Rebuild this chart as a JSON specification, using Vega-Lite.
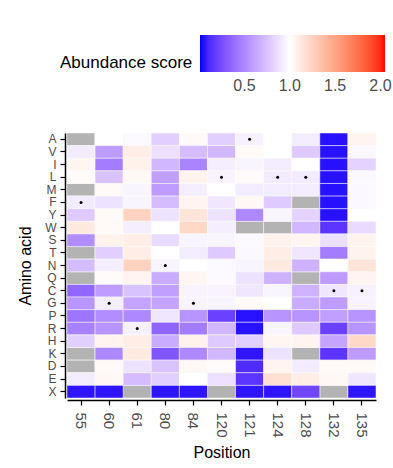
{
  "$schema": "https://vega.github.io/schema/vega-lite/v6.json",
  "width": 309,
  "height": 265,
  "autosize": {"type": "none"},
  "padding": {"left": 67, "top": 133, "right": 17, "bottom": 70},
  "background": "white",
  "config": {
    "view": {"stroke": null},
    "font": "Liberation Sans",
    "axis": {"domainColor": "black", "domainWidth": 1.5, "tickColor": "black", "tickWidth": 1.2, "tickSize": 5, "labelColor": "#4d4d4d", "titleColor": "black", "titleFontWeight": "normal", "titleFontSize": 16, "labelFontSize": 15, "grid": false, "offset": 2}
  },
  "datasets": {
    "cells": [
      {"position":"55","aa":"A","score":null,"wt":0},{"position":"55","aa":"V","score":0.92,"wt":0},{"position":"55","aa":"I","score":1.05,"wt":0},{"position":"55","aa":"L","score":1.02,"wt":0},{"position":"55","aa":"M","score":null,"wt":0},{"position":"55","aa":"F","score":0.92,"wt":1},{"position":"55","aa":"Y","score":0.78,"wt":0},{"position":"55","aa":"W","score":1.12,"wt":0},{"position":"55","aa":"S","score":0.52,"wt":0},{"position":"55","aa":"T","score":null,"wt":0},{"position":"55","aa":"N","score":0.72,"wt":0},{"position":"55","aa":"Q","score":null,"wt":0},{"position":"55","aa":"C","score":0.36,"wt":0},{"position":"55","aa":"G","score":0.56,"wt":0},{"position":"55","aa":"P","score":0.42,"wt":0},{"position":"55","aa":"R","score":0.47,"wt":0},{"position":"55","aa":"H","score":0.8,"wt":0},{"position":"55","aa":"K","score":null,"wt":0},{"position":"55","aa":"D","score":null,"wt":0},{"position":"55","aa":"E","score":0.92,"wt":0},{"position":"55","aa":"X","score":0.05,"wt":0},
      {"position":"60","aa":"A","score":1.0,"wt":0},{"position":"60","aa":"V","score":0.58,"wt":0},{"position":"60","aa":"I","score":0.45,"wt":0},{"position":"60","aa":"L","score":0.75,"wt":0},{"position":"60","aa":"M","score":1.03,"wt":0},{"position":"60","aa":"F","score":0.88,"wt":0},{"position":"60","aa":"Y","score":1.03,"wt":0},{"position":"60","aa":"W","score":1.03,"wt":0},{"position":"60","aa":"S","score":1.08,"wt":0},{"position":"60","aa":"T","score":0.8,"wt":0},{"position":"60","aa":"N","score":0.93,"wt":0},{"position":"60","aa":"Q","score":1.02,"wt":0},{"position":"60","aa":"C","score":0.58,"wt":0},{"position":"60","aa":"G","score":0.93,"wt":1},{"position":"60","aa":"P","score":0.52,"wt":0},{"position":"60","aa":"R","score":0.55,"wt":0},{"position":"60","aa":"H","score":1.06,"wt":0},{"position":"60","aa":"K","score":0.5,"wt":0},{"position":"60","aa":"D","score":1.03,"wt":0},{"position":"60","aa":"E","score":1.04,"wt":0},{"position":"60","aa":"X","score":0.05,"wt":0},
      {"position":"61","aa":"A","score":0.98,"wt":0},{"position":"61","aa":"V","score":1.1,"wt":0},{"position":"61","aa":"I","score":1.08,"wt":0},{"position":"61","aa":"L","score":1.04,"wt":0},{"position":"61","aa":"M","score":0.96,"wt":0},{"position":"61","aa":"F","score":0.96,"wt":0},{"position":"61","aa":"Y","score":1.25,"wt":0},{"position":"61","aa":"W","score":0.93,"wt":0},{"position":"61","aa":"S","score":1.1,"wt":0},{"position":"61","aa":"T","score":1.1,"wt":0},{"position":"61","aa":"N","score":1.25,"wt":0},{"position":"61","aa":"Q","score":1.06,"wt":0},{"position":"61","aa":"C","score":0.75,"wt":0},{"position":"61","aa":"G","score":0.62,"wt":0},{"position":"61","aa":"P","score":0.5,"wt":0},{"position":"61","aa":"R","score":0.94,"wt":1},{"position":"61","aa":"H","score":1.1,"wt":0},{"position":"61","aa":"K","score":1.12,"wt":0},{"position":"61","aa":"D","score":0.88,"wt":0},{"position":"61","aa":"E","score":0.72,"wt":0},{"position":"61","aa":"X","score":null,"wt":0},
      {"position":"80","aa":"A","score":0.8,"wt":0},{"position":"80","aa":"V","score":0.87,"wt":0},{"position":"80","aa":"I","score":0.7,"wt":0},{"position":"80","aa":"L","score":0.6,"wt":0},{"position":"80","aa":"M","score":0.58,"wt":0},{"position":"80","aa":"F","score":0.72,"wt":0},{"position":"80","aa":"Y","score":0.88,"wt":0},{"position":"80","aa":"W","score":1.0,"wt":0},{"position":"80","aa":"S","score":0.85,"wt":0},{"position":"80","aa":"T","score":1.0,"wt":0},{"position":"80","aa":"N","score":0.96,"wt":1},{"position":"80","aa":"Q","score":0.65,"wt":0},{"position":"80","aa":"C","score":0.6,"wt":0},{"position":"80","aa":"G","score":0.62,"wt":0},{"position":"80","aa":"P","score":0.9,"wt":0},{"position":"80","aa":"R","score":0.35,"wt":0},{"position":"80","aa":"H","score":0.65,"wt":0},{"position":"80","aa":"K","score":0.28,"wt":0},{"position":"80","aa":"D","score":0.75,"wt":0},{"position":"80","aa":"E","score":0.8,"wt":0},{"position":"80","aa":"X","score":0.05,"wt":0},
      {"position":"84","aa":"A","score":1.03,"wt":0},{"position":"84","aa":"V","score":0.72,"wt":0},{"position":"84","aa":"I","score":0.48,"wt":0},{"position":"84","aa":"L","score":1.07,"wt":0},{"position":"84","aa":"M","score":0.93,"wt":0},{"position":"84","aa":"F","score":1.06,"wt":0},{"position":"84","aa":"Y","score":1.15,"wt":0},{"position":"84","aa":"W","score":1.22,"wt":0},{"position":"84","aa":"S","score":0.96,"wt":0},{"position":"84","aa":"T","score":0.92,"wt":0},{"position":"84","aa":"N","score":1.0,"wt":0},{"position":"84","aa":"Q","score":1.05,"wt":0},{"position":"84","aa":"C","score":0.95,"wt":0},{"position":"84","aa":"G","score":0.95,"wt":1},{"position":"84","aa":"P","score":0.55,"wt":0},{"position":"84","aa":"R","score":0.45,"wt":0},{"position":"84","aa":"H","score":1.08,"wt":0},{"position":"84","aa":"K","score":0.5,"wt":0},{"position":"84","aa":"D","score":1.04,"wt":0},{"position":"84","aa":"E","score":1.0,"wt":0},{"position":"84","aa":"X","score":0.05,"wt":0},
      {"position":"120","aa":"A","score":0.8,"wt":0},{"position":"120","aa":"V","score":0.7,"wt":0},{"position":"120","aa":"I","score":0.93,"wt":0},{"position":"120","aa":"L","score":0.95,"wt":1},{"position":"120","aa":"M","score":1.0,"wt":0},{"position":"120","aa":"F","score":0.9,"wt":0},{"position":"120","aa":"Y","score":0.88,"wt":0},{"position":"120","aa":"W","score":0.93,"wt":0},{"position":"120","aa":"S","score":0.96,"wt":0},{"position":"120","aa":"T","score":0.78,"wt":0},{"position":"120","aa":"N","score":0.97,"wt":0},{"position":"120","aa":"Q","score":0.98,"wt":0},{"position":"120","aa":"C","score":0.95,"wt":0},{"position":"120","aa":"G","score":0.96,"wt":0},{"position":"120","aa":"P","score":0.2,"wt":0},{"position":"120","aa":"R","score":0.7,"wt":0},{"position":"120","aa":"H","score":0.78,"wt":0},{"position":"120","aa":"K","score":0.7,"wt":0},{"position":"120","aa":"D","score":1.02,"wt":0},{"position":"120","aa":"E","score":0.87,"wt":0},{"position":"120","aa":"X","score":null,"wt":0},
      {"position":"121","aa":"A","score":0.94,"wt":1},{"position":"121","aa":"V","score":1.03,"wt":0},{"position":"121","aa":"I","score":0.96,"wt":0},{"position":"121","aa":"L","score":1.02,"wt":0},{"position":"121","aa":"M","score":0.92,"wt":0},{"position":"121","aa":"F","score":1.04,"wt":0},{"position":"121","aa":"Y","score":0.5,"wt":0},{"position":"121","aa":"W","score":null,"wt":0},{"position":"121","aa":"S","score":0.97,"wt":0},{"position":"121","aa":"T","score":0.97,"wt":0},{"position":"121","aa":"N","score":0.96,"wt":0},{"position":"121","aa":"Q","score":0.88,"wt":0},{"position":"121","aa":"C","score":0.9,"wt":0},{"position":"121","aa":"G","score":1.03,"wt":0},{"position":"121","aa":"P","score":0.04,"wt":0},{"position":"121","aa":"R","score":0.04,"wt":0},{"position":"121","aa":"H","score":0.8,"wt":0},{"position":"121","aa":"K","score":0.05,"wt":0},{"position":"121","aa":"D","score":0.12,"wt":0},{"position":"121","aa":"E","score":0.15,"wt":0},{"position":"121","aa":"X","score":0.05,"wt":0},
      {"position":"124","aa":"A","score":1.0,"wt":0},{"position":"124","aa":"V","score":1.0,"wt":0},{"position":"124","aa":"I","score":0.92,"wt":0},{"position":"124","aa":"L","score":0.92,"wt":1},{"position":"124","aa":"M","score":0.92,"wt":0},{"position":"124","aa":"F","score":0.78,"wt":0},{"position":"124","aa":"Y","score":0.96,"wt":0},{"position":"124","aa":"W","score":null,"wt":0},{"position":"124","aa":"S","score":1.08,"wt":0},{"position":"124","aa":"T","score":1.1,"wt":0},{"position":"124","aa":"N","score":1.12,"wt":0},{"position":"124","aa":"Q","score":0.68,"wt":0},{"position":"124","aa":"C","score":0.96,"wt":0},{"position":"124","aa":"G","score":1.0,"wt":0},{"position":"124","aa":"P","score":0.55,"wt":0},{"position":"124","aa":"R","score":0.96,"wt":0},{"position":"124","aa":"H","score":1.05,"wt":0},{"position":"124","aa":"K","score":0.88,"wt":0},{"position":"124","aa":"D","score":1.06,"wt":0},{"position":"124","aa":"E","score":1.18,"wt":0},{"position":"124","aa":"X","score":0.05,"wt":0},
      {"position":"128","aa":"A","score":0.92,"wt":0},{"position":"128","aa":"V","score":0.78,"wt":0},{"position":"128","aa":"I","score":1.0,"wt":0},{"position":"128","aa":"L","score":0.92,"wt":1},{"position":"128","aa":"M","score":0.92,"wt":0},{"position":"128","aa":"F","score":null,"wt":0},{"position":"128","aa":"Y","score":0.82,"wt":0},{"position":"128","aa":"W","score":0.7,"wt":0},{"position":"128","aa":"S","score":1.05,"wt":0},{"position":"128","aa":"T","score":0.9,"wt":0},{"position":"128","aa":"N","score":0.68,"wt":0},{"position":"128","aa":"Q","score":null,"wt":0},{"position":"128","aa":"C","score":0.68,"wt":0},{"position":"128","aa":"G","score":0.65,"wt":0},{"position":"128","aa":"P","score":0.55,"wt":0},{"position":"128","aa":"R","score":0.78,"wt":0},{"position":"128","aa":"H","score":1.06,"wt":0},{"position":"128","aa":"K","score":null,"wt":0},{"position":"128","aa":"D","score":0.92,"wt":0},{"position":"128","aa":"E","score":1.1,"wt":0},{"position":"128","aa":"X","score":0.22,"wt":0},
      {"position":"132","aa":"A","score":0.04,"wt":0},{"position":"132","aa":"V","score":0.04,"wt":0},{"position":"132","aa":"I","score":0.04,"wt":0},{"position":"132","aa":"L","score":0.04,"wt":0},{"position":"132","aa":"M","score":0.04,"wt":0},{"position":"132","aa":"F","score":0.04,"wt":0},{"position":"132","aa":"Y","score":0.04,"wt":0},{"position":"132","aa":"W","score":0.15,"wt":0},{"position":"132","aa":"S","score":0.87,"wt":0},{"position":"132","aa":"T","score":0.45,"wt":0},{"position":"132","aa":"N","score":1.0,"wt":0},{"position":"132","aa":"Q","score":0.58,"wt":0},{"position":"132","aa":"C","score":0.9,"wt":1},{"position":"132","aa":"G","score":0.58,"wt":0},{"position":"132","aa":"P","score":0.6,"wt":0},{"position":"132","aa":"R","score":0.2,"wt":0},{"position":"132","aa":"H","score":0.62,"wt":0},{"position":"132","aa":"K","score":0.15,"wt":0},{"position":"132","aa":"D","score":1.03,"wt":0},{"position":"132","aa":"E","score":1.04,"wt":0},{"position":"132","aa":"X","score":null,"wt":0},
      {"position":"135","aa":"A","score":1.06,"wt":0},{"position":"135","aa":"V","score":0.97,"wt":0},{"position":"135","aa":"I","score":0.82,"wt":0},{"position":"135","aa":"L","score":0.97,"wt":0},{"position":"135","aa":"M","score":0.97,"wt":0},{"position":"135","aa":"F","score":0.97,"wt":0},{"position":"135","aa":"Y","score":1.0,"wt":0},{"position":"135","aa":"W","score":0.85,"wt":0},{"position":"135","aa":"S","score":1.07,"wt":0},{"position":"135","aa":"T","score":1.07,"wt":0},{"position":"135","aa":"N","score":1.15,"wt":0},{"position":"135","aa":"Q","score":1.06,"wt":0},{"position":"135","aa":"C","score":0.94,"wt":1},{"position":"135","aa":"G","score":0.95,"wt":0},{"position":"135","aa":"P","score":0.55,"wt":0},{"position":"135","aa":"R","score":0.55,"wt":0},{"position":"135","aa":"H","score":1.22,"wt":0},{"position":"135","aa":"K","score":0.58,"wt":0},{"position":"135","aa":"D","score":1.03,"wt":0},{"position":"135","aa":"E","score":0.9,"wt":0},{"position":"135","aa":"X","score":0.05,"wt":0}
    ]
  },
  "data": {"name": "cells"},
  "encoding": {
    "x": {"field": "position", "type": "nominal", "title": "Position",
      "scale": {"domain": ["55","60","61","80","84","120","121","124","128","132","135"], "paddingInner": 0, "paddingOuter": 0},
      "axis": {"labelAngle": 90, "labelAlign": "left", "labelBaseline": "middle", "labelPadding": 7, "titlePadding": 7}},
    "y": {"field": "aa", "type": "nominal", "title": "Amino acid",
      "scale": {"domain": ["A","V","I","L","M","F","Y","W","S","T","N","Q","C","G","P","R","H","K","D","E","X"], "paddingInner": 0, "paddingOuter": 0},
      "axis": {"labelFontSize": 12, "labelPadding": 4, "titlePadding": 11}}
  },
  "layer": [
    {"mark": {"type": "rect", "fill": "#b3b3b3", "stroke": "white", "strokeWidth": 0.5}},
    {"transform": [{"filter": "isValid(datum.score)"}],
     "mark": {"type": "rect", "stroke": "white", "strokeWidth": 0.5},
     "encoding": {
       "color": {"field": "score", "type": "quantitative", "title": "Abundance score",
         "scale": {"type": "linear", "domain": [0.01, 1, 2.05], "range": ["#0000ff", "#ffffff", "#ff0000"], "interpolate": "lab"},
         "legend": {"orient": "none", "legendX": -7, "legendY": -98, "direction": "horizontal", "gradientLength": 185, "gradientThickness": 37, "gradientStrokeWidth": 0, "titleOrient": "left", "titleAngle": 0, "titleAnchor": "end", "titleBaseline": "bottom", "titleFontSize": 17, "titleFontWeight": "normal", "titleColor": "black", "titlePadding": 7, "labelFontSize": 16, "labelColor": "#4d4d4d", "labelOffset": 6, "values": [0.5, 1, 1.5, 2], "format": ".1f", "padding": 0}
       }
     }},
    {"transform": [{"filter": "datum.wt == 1"}],
     "mark": {"type": "point", "filled": true, "color": "black", "size": 9, "opacity": 1}}
  ]
}
